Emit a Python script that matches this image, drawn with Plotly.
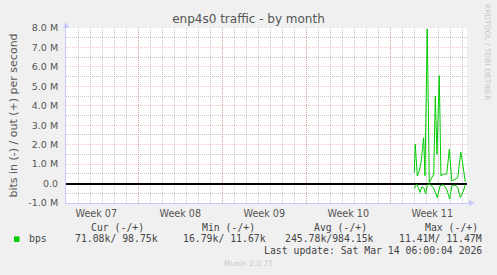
import plotly.graph_objects as go

# ---- data (x = days since start of Week 07, values in Mbit/s) ----
out_days = [30.00, 30.08, 30.25, 30.42, 30.58, 30.70, 30.78, 30.89, 31.08, 31.25,
            31.53, 31.62, 31.75, 31.89, 32.08, 32.22, 32.42, 32.70, 32.92, 33.12,
            33.39, 33.62, 33.87, 33.98, 34.25]
out_mbps = [0.56, 2.02, 0.39, 0.65, 1.16, 1.93, 2.36, 0.40, 7.95, 0.05,
            0.39, 0.50, 4.49, 1.50, 5.55, 0.39, 0.48, 0.48, 1.76, 0.13,
            0.22, 0.30, 1.62, 1.25, 0.08]
in_days = [30.00, 30.20, 30.33, 30.47, 30.61, 30.78, 30.94, 31.11, 31.25, 31.45,
           31.58, 31.75, 31.92, 32.14, 32.42, 32.70, 32.95, 33.12, 33.39, 33.62,
           33.84, 34.09, 34.25]
in_mbps = [-0.26, -0.03, -0.20, -0.46, -0.18, -0.20, -0.51, -0.04, -0.02, -0.12,
           -0.20, -0.45, -0.72, -0.12, -0.06, -0.29, -0.80, -0.12, -0.08, -0.20,
           -0.72, -0.39, -0.05]

week_label_pos = [3.5, 10.5, 17.5, 24.5, 31.5]
week_labels = ["Week 07", "Week 08", "Week 09", "Week 10", "Week 11"]
week_bounds = [7, 14, 21, 28]
day_lines = list(range(1, 35))
y_ticks = [-1, 0, 1, 2, 3, 4, 5, 6, 7, 8]
y_labels = ["-1.0 M", "0.0", "1.0 M", "2.0 M", "3.0 M", "4.0 M", "5.0 M", "6.0 M", "7.0 M", "8.0 M"]
y_half = [-0.5, 0.5, 1.5, 2.5, 3.5, 4.5, 5.5, 6.5, 7.5]

legend_headers = ["Cur (-/+)", "Min (-/+)", "Avg (-/+)", "Max (-/+)"]
legend_values = ["71.08k/ 98.75k", "16.79k/ 11.67k", "245.78k/984.15k", "11.41M/ 11.47M"]
series_name = "bps"
last_update = "Last update: Sat Mar 14 06:00:04 2026"

# ---- layout geometry ----
W, H = 497, 275
L, R, T, B = 66, 30, 28, 71.5
PW, PH = W - L - R, H - T - B
X_RANGE = [0.975, 0.975 + PW / 12.0]

def px(x):
    return (x - L) / PW

def py(y):
    return (H - B - y) / PH

GREEN = "#00cc00"
TXT = "#555555"
MONO = "DejaVu Sans Mono"
SANS = "DejaVu Sans"
RED_GRID = "rgba(235,90,90,0.35)"
GRAY_GRID = "rgba(175,175,175,0.7)"
AXIS = "#c8c8ff"

fig = go.Figure()
fig.add_trace(go.Scatter(x=out_days, y=out_mbps, mode="lines", xaxis="x", yaxis="y",
                         line=dict(color=GREEN, width=1), hoverinfo="skip", showlegend=False))
fig.add_trace(go.Scatter(x=in_days, y=in_mbps, mode="lines", xaxis="x2", yaxis="y",
                         line=dict(color=GREEN, width=1), hoverinfo="skip", showlegend=False))

fig.update_layout(
    width=W, height=H,
    margin=dict(l=L, r=R, t=T, b=B, pad=0),
    paper_bgcolor="#f0f0f0", plot_bgcolor="#ffffff",
    showlegend=False,
    title=dict(text="enp4s0 traffic - by month", x=0.5, xref="container", xanchor="center",
               y=1 - 19 / H, yref="container", yanchor="middle",
               font=dict(family=SANS, size=12, color=TXT)),
    xaxis=dict(range=X_RANGE, tickmode="array", tickvals=week_bounds,
               showticklabels=False, ticks="",
               showgrid=True, gridcolor=RED_GRID, griddash="1px,1px", gridwidth=1,
               minor=dict(tickmode="array", tickvals=day_lines, showgrid=True,
                          gridcolor=GRAY_GRID, griddash="1px,1px", gridwidth=1, ticks=""),
               zeroline=False, showline=True, linecolor=AXIS, linewidth=1, fixedrange=True),
    xaxis2=dict(range=X_RANGE, overlaying="x", side="bottom", anchor="y",
                tickmode="array", tickvals=week_label_pos, ticktext=week_labels,
                ticks="", showgrid=False, zeroline=False, showline=False,
                ticklabelstandoff=3,
                tickfont=dict(family=SANS, size=9.6, color=TXT), fixedrange=True),
    yaxis=dict(range=[-1, 8], tickmode="array", tickvals=y_ticks, ticktext=y_labels,
               ticks="", ticklabelstandoff=5,
               tickfont=dict(family=SANS, size=9.5, color=TXT),
               showgrid=True, gridcolor=RED_GRID, griddash="1px,1px", gridwidth=1,
               minor=dict(tickmode="array", tickvals=y_half, showgrid=True,
                          gridcolor=GRAY_GRID, griddash="1px,1px", gridwidth=1, ticks=""),
               zeroline=True, zerolinecolor="#000000", zerolinewidth=1.5,
               showline=True, linecolor=AXIS, linewidth=1,
               title=dict(text="bits in (-) / out (+) per second", standoff=8,
                          font=dict(family=SANS, size=11, color=TXT)),
               automargin=False, fixedrange=True),
)

shapes = []
# axis arrows
shapes.append(dict(type="path", xref="paper", yref="paper", layer="above",
                   path=f"M {px(L-3)} {py(T)} L {px(L+3)} {py(T)} L {px(L)} {py(T-6)} Z",
                   fillcolor=AXIS, line=dict(width=0)))
shapes.append(dict(type="line", xref="paper", yref="paper", x0=px(L+PW), x1=px(L+PW+2),
                   y0=0, y1=0, line=dict(color=AXIS, width=1)))
shapes.append(dict(type="path", xref="paper", yref="paper", layer="above",
                   path=f"M {px(L+PW+2)} {py(H-B-3)} L {px(L+PW+2)} {py(H-B+3)} L {px(L+PW+8)} {py(H-B)} Z",
                   fillcolor=AXIS, line=dict(width=0)))
# legend colour box
shapes.append(dict(type="rect", xref="paper", yref="paper",
                   x0=px(14), x1=px(19.5), y0=py(242.5), y1=py(237),
                   fillcolor=GREEN, line=dict(width=0)))
fig.update_layout(shapes=shapes)

ann = []
def text(x, y, s, size=9.8, color="#444444", family=MONO, anchor="left", angle=0):
    ann.append(dict(x=px(x), y=py(y), xref="paper", yref="paper", text=s, showarrow=False,
                    xanchor=anchor, yanchor="middle", textangle=angle,
                    font=dict(family=family, size=size, color=color)))

for hx, h in zip([89, 200, 311.7, 422.7], legend_headers):
    text(hx, 227.7, h)
text(26.7, 239.5, series_name)
for vx, v in zip([72.7, 181, 282.7, 397.3], legend_values):
    text(vx, 239.5, v)
text(261.7, 251, last_update)
text(248, 264.5, "Munin 2.0.75", size=7.5, color="#c8c8c8", family=SANS, anchor="center")
text(487, 52, "RRDTOOL / TOBI OETIKER", size=7.5, color="#c8c8c8", family=SANS,
     anchor="center", angle=90)
fig.update_layout(annotations=ann)

fig.write_html("out.html")
